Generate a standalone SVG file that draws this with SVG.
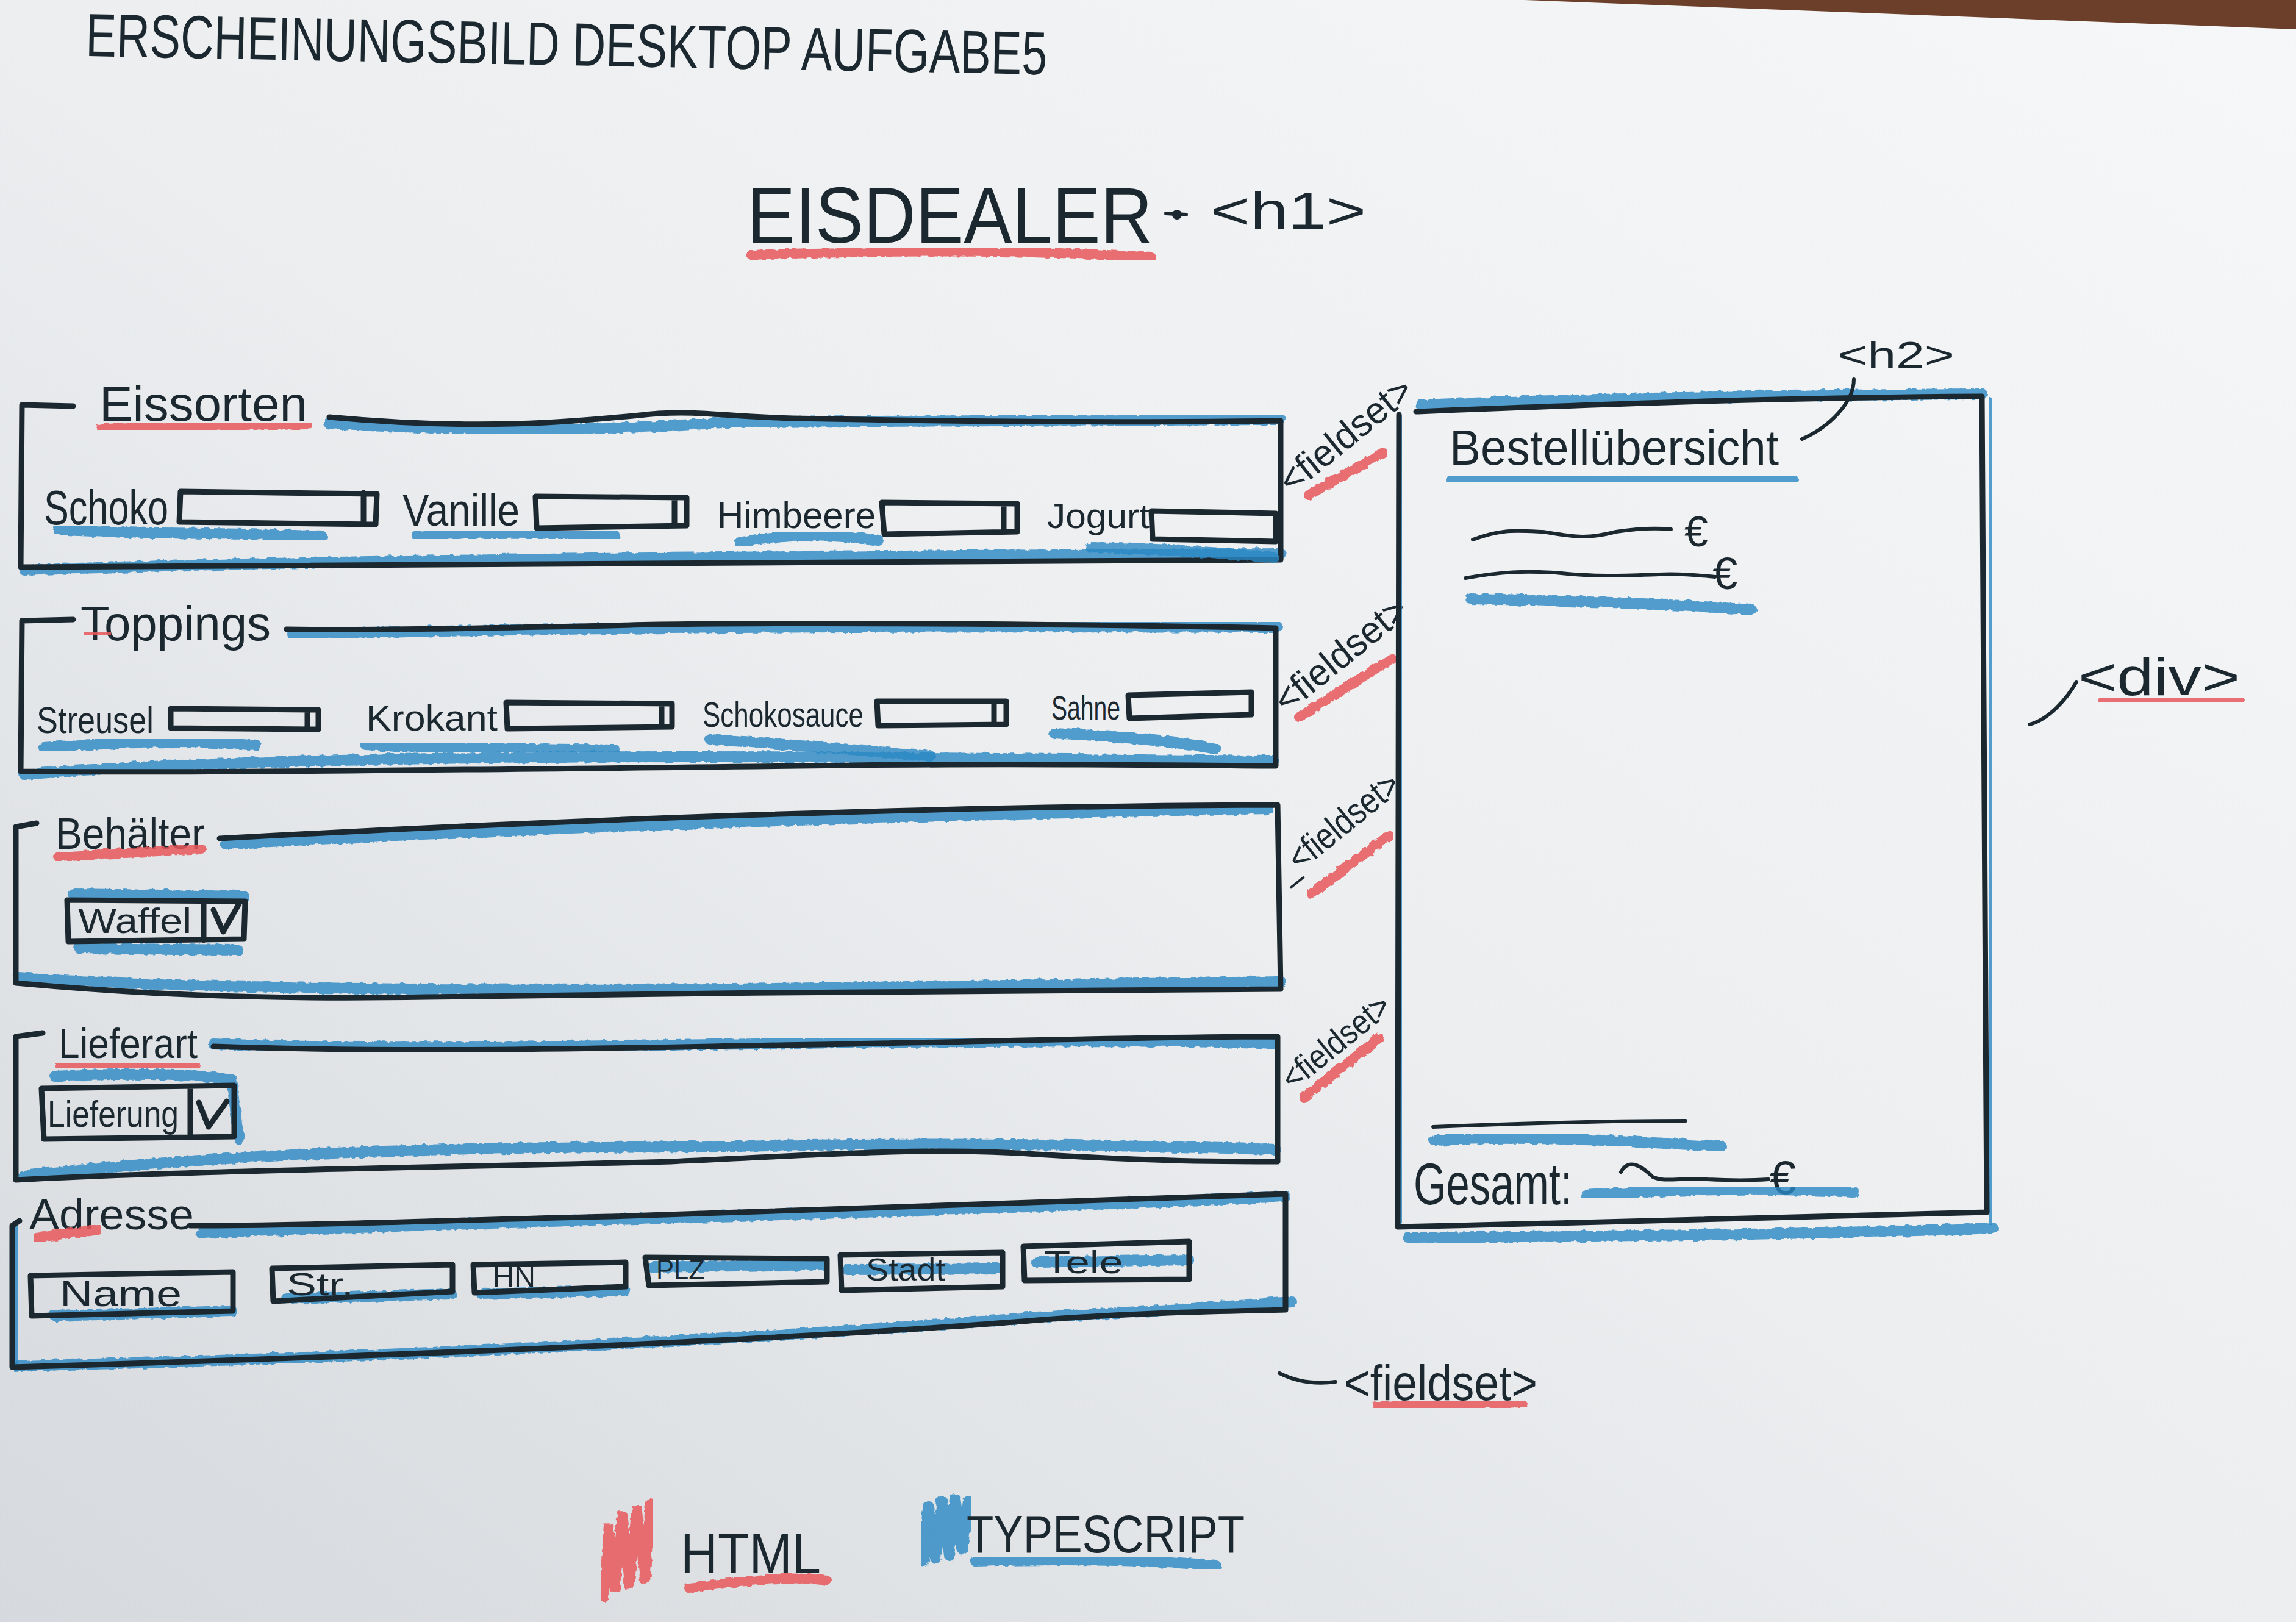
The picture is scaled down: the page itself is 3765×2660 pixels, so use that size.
<svg xmlns="http://www.w3.org/2000/svg" width="3765" height="2660" viewBox="0 0 3765 2660">
<defs>
<linearGradient id="paper" x1="1" y1="0" x2="0" y2="1">
<stop offset="0" stop-color="#f6f7f8"/>
<stop offset="0.5" stop-color="#eceef0"/>
<stop offset="1" stop-color="#d6d9dd"/>
</linearGradient>
<filter id="pencil" x="-5%" y="-50%" width="110%" height="200%">
<feTurbulence type="fractalNoise" baseFrequency="0.09" numOctaves="2" seed="3"/>
<feDisplacementMap in="SourceGraphic" scale="7"/>
</filter>
<style>
.ink{fill:none;stroke:#1c2830;stroke-width:9;stroke-linecap:round;stroke-linejoin:round}
.thin{stroke-width:6}
.blue{fill:none;stroke:#2a88c4;stroke-width:18;stroke-linecap:round;stroke-linejoin:round;opacity:.8;filter:url(#pencil)}
.red{fill:none;stroke:#e8585b;stroke-width:16;stroke-linecap:round;opacity:.85;filter:url(#pencil)}
.t{font-family:"Liberation Sans",Arial,sans-serif;fill:#1c2830}
.hand{font-family:"Liberation Sans Narrow","Liberation Sans",Arial,sans-serif;fill:#1c2830}
</style>
</defs>
<rect width="3765" height="2660" fill="url(#paper)"/>
<polygon points="2500,0 3765,0 3765,48" fill="#6b3f2a"/>

<g id="title">
<text class="t" x="140" y="92" font-size="100" textLength="1577" lengthAdjust="spacingAndGlyphs" transform="rotate(1.1 140 92)">ERSCHEINUNGSBILD DESKTOP AUFGABE5</text>
</g>

<g id="heading-h1">
<text class="t" x="1225" y="398" font-size="130" textLength="665" lengthAdjust="spacingAndGlyphs">EISDEALER</text>
<path class="red" d="M1232 418 C1450 410 1700 410 1888 422"/>
<circle cx="1930" cy="352" r="8" fill="#1c2830"/>
<text class="t" x="1985" y="375" font-size="85" textLength="255" lengthAdjust="spacingAndGlyphs">&lt;h1&gt;</text>
</g>

<g id="fieldset-eissorten">
<path class="blue" d="M540 695 C800 708 1000 706 1200 692 C1500 692 1800 692 2100 688"/>
<path class="blue" d="M40 935 C600 915 1400 912 2100 908"/>
<path class="ink" d="M120 666 L36 664 L34 930 L2100 918 L2100 690 C1800 694 1500 690 1300 686 C1180 682 1150 674 1080 678 C950 690 800 708 540 684"/>
<text class="hand" x="163" y="690" font-size="80" textLength="341" lengthAdjust="spacingAndGlyphs">Eissorten</text>
<path class="red" d="M165 702 L505 696"/>
<path class="blue" d="M95 868 C250 878 400 872 528 880"/>
<text class="hand" x="72" y="860" font-size="80" textLength="204" lengthAdjust="spacingAndGlyphs">Schoko</text>
<path class="ink" d="M296 806 L618 810 L616 860 L294 856 Z M596 808 L596 858"/>
<path class="blue" d="M684 880 C800 870 900 874 1008 878"/>
<text class="hand" x="660" y="862" font-size="75" textLength="192" lengthAdjust="spacingAndGlyphs">Vanille</text>
<path class="ink" d="M878 814 L1126 816 L1126 862 L880 866 Z M1106 816 L1106 862"/>
<path class="blue" d="M1212 890 C1300 872 1380 878 1440 886"/>
<text class="hand" x="1176" y="866" font-size="62" textLength="260" lengthAdjust="spacingAndGlyphs">Himbeere</text>
<path class="ink" d="M1446 824 L1668 826 L1668 872 L1450 876 Z M1646 826 L1646 872"/>
<path class="blue" d="M1789 898 C1900 900 2000 905 2089 915"/>
<text class="hand" x="1717" y="866" font-size="58" textLength="168" lengthAdjust="spacingAndGlyphs">Jogurt</text>
<path class="ink" d="M1888 838 L2092 842 L2092 888 L1890 884 Z"/>
</g>

<g id="fieldset-toppings">
<path class="blue" d="M480 1040 C900 1030 1400 1025 2095 1028"/>
<path class="blue" d="M40 1270 C300 1248 800 1238 1400 1242 C1700 1244 1900 1245 2088 1248"/>
<path class="ink" d="M120 1016 L36 1018 L34 1265 C300 1268 800 1262 1400 1255 C1700 1252 1900 1255 2092 1256 L2092 1030 C1700 1022 1200 1020 1000 1026 C800 1030 600 1034 470 1032"/>
<text class="hand" x="132" y="1050" font-size="80" textLength="312" lengthAdjust="spacingAndGlyphs">Toppings</text>
<path class="red" d="M140 1040 L180 1038"/>
<path class="blue" d="M72 1226 C200 1216 330 1214 420 1222"/>
<text class="hand" x="60" y="1202" font-size="62" textLength="192" lengthAdjust="spacingAndGlyphs">Streusel</text>
<path class="ink" d="M280 1162 L522 1164 L522 1196 L280 1194 Z M504 1164 L504 1196"/>
<path class="blue" d="M600 1222 C750 1228 900 1228 1008 1230"/>
<text class="hand" x="600" y="1198" font-size="60" textLength="216" lengthAdjust="spacingAndGlyphs">Krokant</text>
<path class="ink" d="M830 1152 L1102 1154 L1102 1192 L832 1195 Z M1085 1154 L1085 1192"/>
<path class="blue" d="M1164 1212 C1300 1222 1420 1230 1525 1240"/>
<text class="hand" x="1152" y="1192" font-size="58" textLength="264" lengthAdjust="spacingAndGlyphs">Schokosauce</text>
<path class="ink" d="M1438 1150 L1650 1150 L1650 1188 L1440 1190 Z M1630 1150 L1630 1188"/>
<path class="blue" d="M1729 1202 C1830 1208 1920 1214 1993 1228"/>
<text class="hand" x="1724" y="1180" font-size="55" textLength="113" lengthAdjust="spacingAndGlyphs">Sahne</text>
<path class="ink" d="M1850 1140 L2052 1135 L2052 1172 L1852 1178 Z"/>
</g>

<g id="fieldset-behaelter">
<path class="blue" d="M370 1384 C1000 1350 1600 1335 2080 1326"/>
<path class="blue" d="M30 1604 C300 1620 700 1625 1200 1622 C1600 1618 1900 1615 2100 1610"/>
<path class="ink" d="M60 1350 L26 1356 L26 1612 C200 1628 400 1640 700 1635 C1200 1628 1500 1625 2100 1622 L2095 1320 C1600 1322 1000 1340 360 1375"/>
<text class="hand" x="91" y="1392" font-size="72" textLength="245" lengthAdjust="spacingAndGlyphs">Behälter</text>
<path class="red" d="M96 1405 L330 1392"/>
<path class="blue" d="M120 1466 L400 1470 M130 1555 L390 1558"/>
<path class="ink" d="M110 1476 L402 1478 L400 1540 L112 1544 Z M334 1478 L334 1542 M350 1492 L366 1528 L392 1482"/>
<text class="hand" x="128" y="1530" font-size="58" textLength="186" lengthAdjust="spacingAndGlyphs">Waffel</text>
</g>

<g id="fieldset-lieferart">
<path class="blue" d="M350 1712 C700 1725 1200 1710 1600 1708 C1900 1706 2000 1708 2090 1712"/>
<path class="blue" d="M40 1928 C300 1900 600 1880 1200 1880 C1600 1872 1900 1880 2092 1885"/>
<path class="ink" d="M70 1694 L26 1700 L26 1935 C300 1920 700 1915 1100 1905 C1400 1890 1550 1882 1700 1893 C1900 1905 2000 1905 2095 1905 L2095 1700 C1900 1700 1700 1706 1400 1712 C1000 1718 700 1728 350 1716"/>
<text class="hand" x="96" y="1735" font-size="68" textLength="228" lengthAdjust="spacingAndGlyphs">Lieferart</text>
<path class="red" d="M100 1750 L320 1746"/>
<path class="blue" d="M90 1765 C200 1760 300 1760 380 1770 L392 1868"/>
<path class="ink" d="M68 1785 L384 1780 L384 1864 L72 1868 Z M312 1784 L312 1864 M326 1808 L342 1848 L372 1806"/>
<text class="hand" x="78" y="1848" font-size="62" textLength="215" lengthAdjust="spacingAndGlyphs">Lieferung</text>
</g>

<g id="fieldset-adresse">
<path class="blue" d="M330 2022 C900 2000 1500 1990 2108 1962"/>
<path class="blue" d="M30 2240 C500 2230 1200 2200 1700 2160 C1900 2150 2050 2140 2118 2135"/>
<path class="blue" d="M28 2010 L24 2240"/>
<path class="ink" d="M32 2002 L20 2010 L20 2242 C600 2225 1300 2198 1700 2165 C1900 2150 2050 2150 2108 2148 L2108 1958 C1800 1965 1400 1985 1000 1995 C700 2002 500 2010 312 2010"/>
<text class="hand" x="48" y="2016" font-size="70" textLength="270" lengthAdjust="spacingAndGlyphs">Adresse</text>
<path class="red" d="M60 2030 L160 2016"/>
<path class="blue" d="M90 2158 L380 2150 M470 2130 L740 2122 M790 2122 L1024 2116 M1070 2078 L1350 2074 M1390 2082 L1640 2080 M1700 2070 L1950 2066"/>
<path class="ink" d="M50 2092 L382 2086 L382 2150 L52 2158 Z"/>
<text class="hand" x="98" y="2142" font-size="60" textLength="200" lengthAdjust="spacingAndGlyphs">Name</text>
<path class="ink" d="M446 2080 L742 2074 L742 2118 L448 2134 Z"/>
<text class="hand" x="470" y="2124" font-size="52" textLength="110" lengthAdjust="spacingAndGlyphs">Str.</text>
<path class="ink" d="M776 2074 L1026 2070 L1026 2110 L778 2120 Z"/>
<text class="hand" x="808" y="2110" font-size="48" textLength="70" lengthAdjust="spacingAndGlyphs">HN</text>
<path class="ink" d="M1058 2062 L1356 2064 L1356 2102 L1064 2108 Z"/>
<text class="hand" x="1076" y="2098" font-size="46" textLength="80" lengthAdjust="spacingAndGlyphs">PLZ</text>
<path class="ink" d="M1378 2058 L1644 2054 L1644 2110 L1380 2116 Z"/>
<text class="hand" x="1420" y="2100" font-size="52" textLength="130" lengthAdjust="spacingAndGlyphs">Stadt</text>
<path class="ink" d="M1678 2044 L1950 2036 L1950 2098 L1680 2100 Z"/>
<text class="hand" x="1712" y="2088" font-size="52" textLength="130" lengthAdjust="spacingAndGlyphs">Tele</text>
</g>

<g id="label-fieldset-1">
<path class="red" d="M2146 812 L2268 742"/>
<text class="hand" x="2118" y="812" font-size="62" textLength="262" lengthAdjust="spacingAndGlyphs" transform="rotate(-39 2118 812)">&lt;fieldset&gt;</text>
</g>
<g id="label-fieldset-2">
<path class="red" d="M2130 1176 L2282 1080"/>
<text class="hand" x="2110" y="1172" font-size="62" textLength="262" lengthAdjust="spacingAndGlyphs" transform="rotate(-39 2110 1172)">&lt;fieldset&gt;</text>
</g>
<g id="label-fieldset-3">
<path class="red" d="M2150 1466 L2278 1370"/>
<text class="hand" x="2110" y="1448" font-size="60" textLength="245" lengthAdjust="spacingAndGlyphs" transform="rotate(-39 2110 1448)">_&lt;fieldset&gt;</text>
</g>
<g id="label-fieldset-4">
<path class="red" d="M2138 1800 L2262 1702"/>
<text class="hand" x="2120" y="1790" font-size="56" textLength="212" lengthAdjust="spacingAndGlyphs" transform="rotate(-39 2120 1790)">&lt;fieldset&gt;</text>
</g>
<g id="label-fieldset-5">
<path class="red" d="M2258 2306 L2496 2300"/>
<text class="hand" x="2204" y="2296" font-size="82" textLength="317" lengthAdjust="spacingAndGlyphs">&lt;fieldset&gt;</text>
</g>

<g id="div-bestelluebersicht">
<path class="blue" d="M2330 664 C2600 654 2900 648 3250 646"/>
<path class="blue" d="M3262 660 L3266 2000"/>
<path class="blue" d="M2298 690 L2292 2000"/>
<path class="blue" d="M2310 2030 C2700 2026 3000 2024 3268 2014"/>
<path class="ink" d="M2322 675 C2600 664 2900 652 3250 650 L3258 1988 C2900 1994 2600 2006 2292 2012 L2294 680"/>
<text class="hand" x="2377" y="762" font-size="82" textLength="540" lengthAdjust="spacingAndGlyphs">Bestellübersicht</text>
<path class="blue" d="M2380 788 C2600 782 2800 782 2940 786"/>
<text class="hand" x="3013" y="603" font-size="62" textLength="192" lengthAdjust="spacingAndGlyphs">&lt;h2&gt;</text>
<path class="ink thin" d="M2415 885 C2460 868 2480 870 2530 872 C2580 880 2600 885 2650 872 C2690 866 2720 866 2740 868"/>
<text class="hand" x="2762" y="896" font-size="70">€</text>
<path class="ink thin" d="M2403 948 C2460 938 2500 935 2560 940 C2620 946 2660 944 2720 942 C2760 940 2790 944 2812 946"/>
<text class="hand" x="2808" y="966" font-size="74">€</text>
<path class="blue" d="M2412 982 C2550 985 2700 988 2872 1000"/>
<path class="ink thin" d="M2350 1848 C2500 1842 2650 1838 2764 1838"/>
<path class="blue" d="M2352 1870 C2500 1862 2650 1870 2822 1880"/>
<text class="hand" x="2318" y="1975" font-size="96" textLength="260" lengthAdjust="spacingAndGlyphs">Gesamt:</text>
<path class="ink thin" d="M2658 1922 C2670 1900 2690 1910 2710 1930 C2730 1940 2760 1930 2800 1934 C2840 1936 2870 1936 2900 1934"/>
<text class="hand" x="2902" y="1958" font-size="78">€</text>
<path class="blue" d="M2600 1960 C2750 1950 2900 1948 3040 1955"/>
</g>

<g id="label-div">
<text class="hand" x="3408" y="1140" font-size="88" textLength="265" lengthAdjust="spacingAndGlyphs">&lt;div&gt;</text>
<path class="red" d="M3448 1150 L3672 1146"/>
</g>

<g id="legend">
<path class="red" d="M990 2620 L998 2500 L1008 2610 L1020 2480 L1032 2605 L1044 2470 L1058 2595 L1066 2465"/>
<text class="t" x="1116" y="2580" font-size="92" textLength="230" lengthAdjust="spacingAndGlyphs">HTML</text>
<path class="red" d="M1130 2604 C1200 2596 1280 2582 1356 2592"/>
<path class="blue" d="M1515 2560 L1522 2470 L1534 2555 L1545 2462 L1556 2550 L1566 2458 L1578 2540 L1588 2462"/>
<text class="t" x="1585" y="2546" font-size="88" textLength="456" lengthAdjust="spacingAndGlyphs">TYPESCRIPT</text>
<path class="blue" d="M1600 2560 C1750 2556 1900 2558 1994 2568"/>
</g>

<g id="connectors">
<path class="ink thin" d="M1912 350 L1945 352"/>
<path class="ink thin" d="M3040 622 C3040 660 3000 700 2955 720"/>
<path class="ink thin" d="M3328 1188 C3360 1180 3390 1145 3405 1118"/>
<path class="ink thin" d="M2098 2252 C2130 2268 2160 2270 2190 2266"/>
</g>
</svg>
